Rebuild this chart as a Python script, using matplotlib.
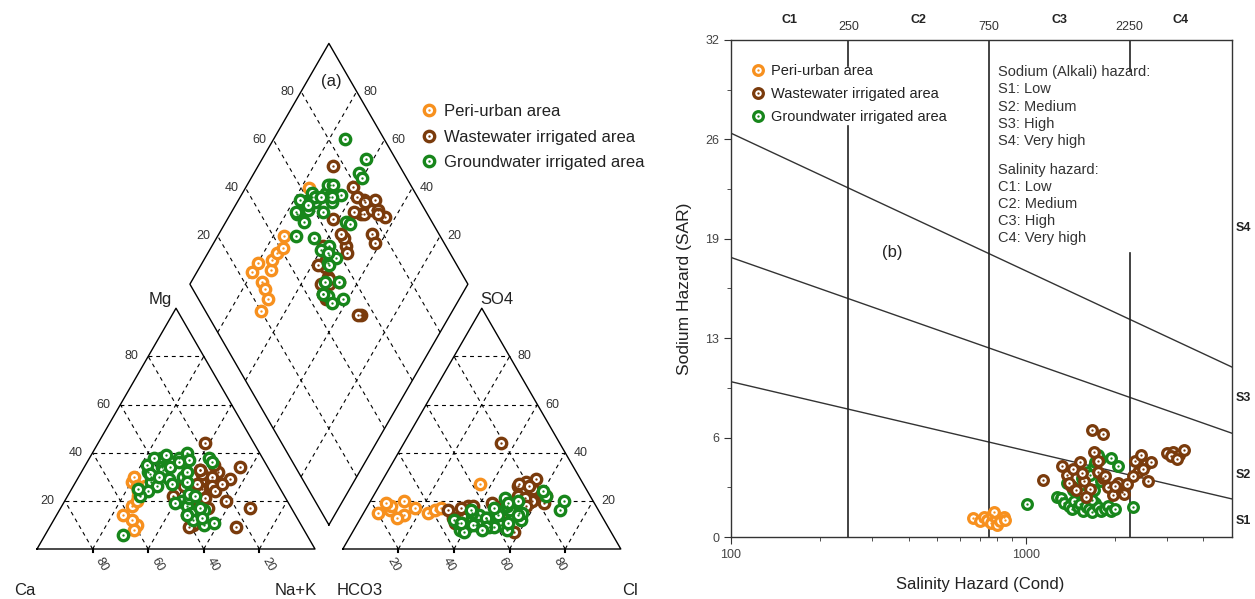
import numpy as np
import matplotlib.pyplot as plt
from matplotlib.transforms import blended_transform_factory

plt.rcParams['font.family'] = ['Liberation Sans', 'DejaVu Sans']

labels = ['Peri-urban area', 'Wastewater irrigated area', 'Groundwater irrigated area']
colors = ['#f7901e', '#7a3b0c', '#17861b']

# ---- Piper data: Mg and Na+K in % of cations, SO4 and Cl in % of anions ----
peri_mg = [10, 28, 22, 26, 30, 12, 24, 18, 20, 14, 26, 8]
peri_nak = [31, 20, 25.5, 26, 20, 28, 24.5, 25, 26, 24, 23, 31]
peri_so4 = [15, 16, 18, 20, 14, 13, 17, 15, 16, 17, 27, 19]
peri_cl = [5, 9, 8.5, 12, 15, 13, 17.5, 23, 25, 27, 36, 6]

waste_mg = [30, 28, 32, 25, 22, 30, 26, 33, 24, 35, 29, 20, 34, 27, 44, 23, 25, 21, 27,
            15, 12, 18, 10, 14, 17, 9, 19, 13, 17, 9, 22, 31, 26, 33]
waste_nak = [27, 45, 49, 47, 44, 48, 50, 42, 52, 46, 55, 58, 56, 53, 38.5, 48, 46, 50, 44,
             50, 52, 48, 51, 47, 53, 50, 45, 49, 68, 67, 38, 44, 40, 42]
waste_so4 = [26, 28, 29, 24, 22, 27, 25, 20, 23, 26, 21, 18, 22, 19, 44, 17, 15, 19, 16,
             14, 13, 15, 16, 12, 18, 11, 14, 17, 9, 10, 7, 14, 18, 13]
waste_cl = [50, 52, 55, 52, 52, 50, 56, 58, 60, 54, 55, 57, 62, 63, 35, 47, 50, 44, 49,
            36, 33, 36, 30, 35, 36, 35, 38, 34, 46, 44, 58, 40, 38, 37]

ground_mg = [38, 30, 32, 28, 34, 36, 30, 38, 32, 28, 40, 35, 26, 37, 33, 29, 31, 24, 39, 27,
             34, 22, 36, 30, 25, 38, 20, 18, 15, 12, 21, 16, 10, 14, 19, 23, 11, 17, 13, 22,
             6, 38, 36]
ground_nak = [25.5, 37.5, 38, 40, 28, 30, 26, 32, 24, 27, 34, 22, 30, 36, 29, 33, 25, 28, 27, 35,
              31, 26, 33, 29, 24, 23, 42, 45, 48, 50, 44, 52, 55, 47, 40, 43, 58, 50, 53, 46,
              28, 43, 45]
ground_so4 = [16, 20, 22, 24, 12, 14, 10, 16, 11, 13, 18, 9, 15, 20, 12, 14, 8, 10, 17, 12,
              15, 9, 21, 11, 13, 10, 12, 10, 9, 8, 14, 11, 7, 13, 15, 9, 10, 12, 8, 16,
              11, 19, 14]
ground_cl = [70, 69.5, 62, 60, 50, 54, 52, 52, 47, 45, 50, 48, 56, 53, 58, 49, 55, 44, 46, 42,
             57, 50, 48, 54, 40, 43, 46, 44, 40, 38, 42, 36, 40, 45, 39, 47, 42, 34, 46, 38,
             37, 50, 56]

# ---- Wilcox (USSL) data: conductivity (uS/cm) and SAR ----
peri_ec = [660, 700, 720, 740, 760, 770, 790, 800, 820, 840, 850, 780]
peri_sar = [1.2, 1.0, 1.3, 1.1, 0.9, 1.4, 1.2, 0.8, 1.0, 1.3, 1.1, 1.6]

ground_ec = [1007, 1280, 1320, 1350, 1400, 1430, 1460, 1500, 1530, 1560, 1600, 1640, 1680, 1720,
             1760, 1800, 1850, 1900, 1950, 2000, 1380, 1450, 1550, 1620, 1700, 1780, 1500, 1580,
             1650, 1720, 1800, 1620, 1700, 1760, 1950, 2050, 2300, 1680, 1560, 1450]
ground_sar = [2.1, 2.6, 2.5, 2.2, 2.0, 1.8, 2.3, 1.9, 2.1, 1.7, 2.0, 1.8, 1.6, 2.2,
              1.9, 1.7, 1.8, 2.0, 1.7, 1.8, 3.5, 3.2, 3.8, 4.2, 4.6, 5.0, 2.9, 3.3,
              4.0, 4.8, 3.6, 2.7, 3.0, 5.3, 5.1, 4.6, 1.9, 2.4, 2.8, 3.0]

waste_ec = [1140, 1680, 1820, 3000, 3150, 3300, 3450, 3100, 3250, 2350, 2450, 2550, 2400, 2500,
            2650, 2600, 2300, 1330, 1380, 1420, 1480, 1520, 1580, 1650, 1700, 1760, 1820, 1900,
            1980, 2050, 2120, 2200, 1450, 1600, 1750, 1850, 2000, 2150, 1400, 1550]
waste_sar = [3.7, 6.9, 6.6, 5.4, 5.5, 5.3, 5.6, 5.2, 5.0, 4.9, 5.3, 4.7, 4.2, 4.4,
             4.8, 3.6, 3.9, 4.6, 4.0, 3.3, 3.0, 4.8, 3.6, 3.1, 5.5, 4.2, 3.8, 3.2,
             2.7, 3.5, 2.9, 3.4, 4.4, 2.6, 4.9, 3.9, 3.3, 2.8, 3.5, 4.1]

# sodium hazard boundaries (SAR at EC = 100 and EC = 5000)
bound_ec = [100, 5000]
bound_s12 = [10.0, 2.45]
bound_s23 = [18.0, 6.68]
bound_s34 = [26.0, 10.94]

S = np.sqrt(3) / 2
GAP = 0.1


def cation_xy(mg, nak):
    mg, nak = np.asarray(mg) / 100, np.asarray(nak) / 100
    return nak + 0.5 * mg, S * mg


def anion_xy(so4, cl):
    so4, cl = np.asarray(so4) / 100, np.asarray(cl) / 100
    return 1 + GAP + cl + 0.5 * so4, S * so4


def diamond_xy(camg, so4cl):
    camg, so4cl = np.asarray(camg) / 100, np.asarray(so4cl) / 100
    return 1 + GAP / 2 + 0.5 * (so4cl - camg), S * GAP + S * (so4cl + camg)


def rings(ax, x, y, color, ms=7.5, mew=2.4):
    ring, = ax.plot(x, y, 'o', ms=ms, mfc='white', mec=color, mew=mew, ls='none')
    dot, = ax.plot(x, y, 'o', ms=1.7, color=color, mew=0, ls='none')
    return ring, dot


fig = plt.figure(figsize=(12.55, 5.99), dpi=100)

# ================= Piper diagram =================
ax = fig.add_axes([0, 0, 660 / 1255, 1])
ax.set_xlim(-37 / 278, 623 / 278)
ax.set_ylim(-50 / 278, 549 / 278)
ax.axis('off')

dash = dict(color='k', lw=0.8, ls=(0, (3.5, 3.5)), zorder=1)
solid = dict(color='k', lw=1.0, zorder=2)
tcol = '#333333'

for p in [20, 40, 60, 80]:
    q = 100 - p
    # cation triangle
    ax.plot(*cation_xy([p, p], [0, q]), **dash)
    ax.plot(*cation_xy([0, q], [p, p]), **dash)
    ax.plot(*cation_xy([0, q], [q, 0]), **dash)
    # anion triangle
    ax.plot(*anion_xy([p, p], [0, q]), **dash)
    ax.plot(*anion_xy([0, q], [p, p]), **dash)
    ax.plot(*anion_xy([0, q], [q, 0]), **dash)
    # diamond
    ax.plot(*diamond_xy([p, p], [0, 100]), **dash)
    ax.plot(*diamond_xy([0, 100], [p, p]), **dash)

ax.plot(*cation_xy([0, 0, 100, 0], [0, 100, 0, 0]), **solid)
ax.plot(*anion_xy([0, 0, 100, 0], [0, 100, 0, 0]), **solid)
ax.plot(*diamond_xy([0, 100, 100, 0, 0], [0, 0, 100, 100, 0]), **solid)

off = 18 / 278
for p in [20, 40, 60, 80]:
    f = p / 100
    # Mg along left edge of the cation triangle
    x, y = cation_xy(p, 0)
    ax.text(x - 0.062, y, str(p), ha='center', va='center', fontsize=9, color=tcol)
    # SO4 along right edge of the anion triangle
    x, y = anion_xy(p, 100 - p)
    ax.text(x + 0.055, y, str(p), ha='center', va='center', fontsize=9, color=tcol)
    # Ca along the cation base
    ax.plot([f, f], [0, -0.012], color='k', lw=1.5)
    ax.text(f + 0.5 * off, -S * off, str(100 - p), ha='center', va='center',
            rotation=-60, fontsize=9, color=tcol)
    # Cl along the anion base
    ax.plot([1 + GAP + f] * 2, [0, -0.012], color='k', lw=1.5)
    ax.text(1 + GAP + f - 0.3 * off, -S * off, str(p), ha='center', va='center',
            rotation=-60, fontsize=9, color=tcol)
    # diamond upper edges
    x, y = diamond_xy(100, p)
    ax.text(x - 0.05, y, str(p), ha='center', va='center', fontsize=9, color=tcol)
    x, y = diamond_xy(p, 100)
    ax.text(x + 0.05, y, str(p), ha='center', va='center', fontsize=9, color=tcol)

lab = dict(fontsize=12, color='#222222', ha='center', va='center')
ax.text(0.442, 0.896, 'Mg', **lab)
ax.text(1.654, 0.896, 'SO4', **lab)
ax.text(-0.043, -0.151, 'Ca', **lab)
ax.text(0.932, -0.151, 'Na+K', **lab)
ax.text(1.162, -0.151, 'HCO3', **lab)
ax.text(2.133, -0.151, 'Cl', **lab)
ax.text(1.058, 1.68, '(a)', **lab)

piper = [(peri_mg, peri_nak, peri_so4, peri_cl),
         (waste_mg, waste_nak, waste_so4, waste_cl),
         (ground_mg, ground_nak, ground_so4, ground_cl)]
handles = []
for (mg, nak, so4, cl), c in zip(piper, colors):
    mg, nak, so4, cl = map(np.asarray, (mg, nak, so4, cl))
    h = rings(ax, *cation_xy(mg, nak), c)
    rings(ax, *anion_xy(so4, cl), c)
    rings(ax, *diamond_xy(100 - nak, so4 + cl), c)
    handles.append(h)

ax.legend(handles, labels, loc='upper left', bbox_to_anchor=(0.638, 0.826),
          frameon=False, fontsize=12, labelspacing=0.62, handlelength=0.9,
          handletextpad=0.5, borderpad=0, borderaxespad=0, labelcolor='#222222')

# ================= Wilcox (USSL) diagram =================
ax2 = fig.add_axes([731 / 1255, 62 / 599, 501 / 1255, 497 / 599])
ax2.set_xscale('log')
ax2.set_xlim(100, 5000)
ax2.set_ylim(0, 32)

for sar in (bound_s12, bound_s23, bound_s34):
    ax2.plot(bound_ec, sar, color='#333333', lw=1.0, zorder=1)

vcol = dict(color='#222222', lw=1.2, zorder=1)
ax2.plot([250, 250], [0, 26.45], **vcol)
ax2.plot([250, 250], [30.3, 32], **vcol)
ax2.plot([750, 750], [0, 32], **vcol)
ax2.plot([2250, 2250], [0, 18.3], **vcol)
ax2.plot([2250, 2250], [30.0, 32], **vcol)

wil_handles = []
for ec, sar, c in [(peri_ec, peri_sar, colors[0]), (ground_ec, ground_sar, colors[2]),
                   (waste_ec, waste_sar, colors[1])]:
    wil_handles.append(rings(ax2, ec, sar, c, ms=7, mew=2.3))
wil_handles = [wil_handles[0], wil_handles[2], wil_handles[1]]

ax2.legend(wil_handles, labels, loc='upper left', bbox_to_anchor=(0.04, 0.952),
           frameon=False, fontsize=10.5, labelspacing=0.62, handlelength=0.9,
           handletextpad=0.5, borderpad=0, borderaxespad=0, labelcolor='#222222')

yt = np.arange(0, 32.1, 6.4)
ax2.set_yticks(yt)
ax2.set_yticklabels(['0', '6', '13', '19', '26', '32'])
ax2.set_yticks(np.arange(3.2, 32, 6.4), minor=True)
ax2.set_xticks([100, 1000])
ax2.set_xticklabels(['100', '1000'])
ax2.set_xticks([200, 300, 400, 500, 600, 700, 800, 900, 2000, 3000, 4000], minor=True)
ax2.xaxis.set_minor_formatter(plt.NullFormatter())
ax2.tick_params(which='both', direction='out', labelsize=9, labelcolor='#444444',
                color='#333333', top=False, right=False)
ax2.tick_params(which='major', length=5)
ax2.tick_params(which='minor', length=3)
for sp in ax2.spines.values():
    sp.set_color('#333333')
    sp.set_linewidth(1.0)

ax2.set_xlabel('Salinity Hazard (Cond)', fontsize=12, color='#222222')
ax2.set_ylabel('Sodium Hazard (SAR)', fontsize=12.5, color='#222222')
ax2.xaxis.set_label_coords(0.497, -0.08)
ax2.yaxis.set_label_coords(-0.077, 0.5)

top = blended_transform_factory(ax2.transData, ax2.transAxes)
for v in [250, 750, 2250]:
    ax2.text(v, 1.027, str(v), transform=top, ha='center', va='center',
             fontsize=9, color='#333333')
for v, name in zip([158, 433, 1300, 3350], ['C1', 'C2', 'C3', 'C4']):
    ax2.text(v, 1.041, name, transform=top, ha='center', va='center',
             fontsize=9, fontweight='bold', color='#222222')

right = blended_transform_factory(ax2.transAxes, ax2.transData)
for v, name in zip([1.0, 4.0, 8.95, 19.9], ['S1', 'S2', 'S3', 'S4']):
    ax2.text(1.022, v, name, transform=right, ha='center', va='center',
             fontsize=9, fontweight='bold', color='#222222')

hz = dict(transform=ax2.transAxes, ha='left', va='top', fontsize=10.5,
          color='#333333', linespacing=1.28)
ax2.text(0.533, 0.949, 'Sodium (Alkali) hazard:\nS1: Low\nS2: Medium\nS3: High\nS4: Very high', **hz)
ax2.text(0.533, 0.753, 'Salinity hazard:\nC1: Low\nC2: Medium\nC3: High\nC4: Very high', **hz)
ax2.text(0.321, 0.573, '(b)', transform=ax2.transAxes, ha='center', va='center',
         fontsize=12, color='#222222')

fig.savefig('out.png', dpi=100)
